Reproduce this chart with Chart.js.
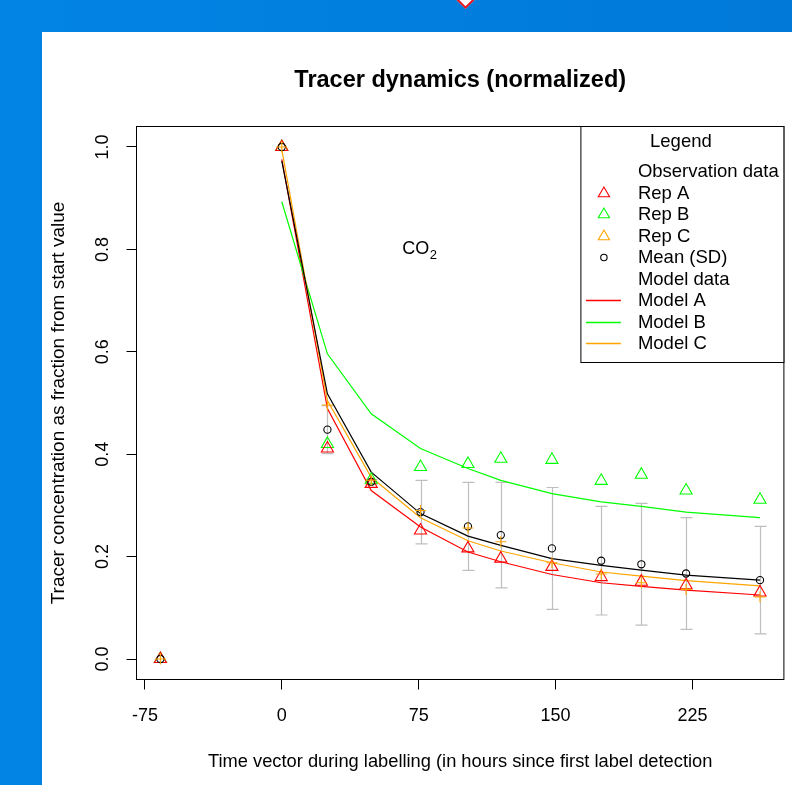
<!DOCTYPE html>
<html>
<head>
<meta charset="utf-8">
<script src="https://cdn.jsdelivr.net/npm/chart.js@4.4.1/dist/chart.umd.min.js"></script>
<style>
    html, body { margin: 0; padding: 0; }
    body { width: 792px; height: 785px; position: relative; overflow: hidden; background: linear-gradient(to right, #0284e4, #0079d9); }
    #panel { position: absolute; left: 42px; top: 32px; right: 0; bottom: 0; background: #fff; }
    #badge { position: absolute; left: 458px; top: -9px; width: 11px; height: 11px; background: #fff; border: 2px solid #e3141b; transform: rotate(45deg); }
    #wrap { position: absolute; left: 0; top: 0; width: 792px; height: 785px; }
</style>
</head>
<body>
<div id="badge"></div>
<div id="panel"></div>
<div id="wrap"><canvas id="tracerChart" width="792" height="785"></canvas></div>
<script>
// Observation data (hours since first label detection, normalized tracer)
const timeObs = [-66.5, 0, 25, 49, 76, 102, 120, 148, 175, 197, 221.5, 262];
const repA = [0, 1.0, 0.411, 0.342, 0.251, 0.216, 0.196, 0.180, 0.160, 0.151, 0.144, 0.130];
const repB = [0, 1.0, 0.420, 0.350, 0.375, 0.381, 0.391, 0.389, 0.348, 0.360, 0.329, 0.311];
const repC = [0, 1.0, 0.496, 0.349, 0.290, 0.256, 0.229, 0.188, 0.166, 0.149, 0.136, 0.121];
const meanObs = [0, 1.0, 0.448, 0.346, 0.287, 0.259, 0.242, 0.216, 0.192, 0.185, 0.167, 0.154];
const sdObs = [0, 0, 0.047, 0.005, 0.062, 0.086, 0.103, 0.119, 0.106, 0.119, 0.109, 0.105];

// Model data
const timeModel = [0, 25, 49, 76, 102, 120, 148, 175, 197, 221.5, 262];
const modelA = [0.976, 0.489, 0.329, 0.258, 0.209, 0.190, 0.165, 0.149, 0.142, 0.1345, 0.125];
const modelB = [0.893, 0.596, 0.479, 0.411, 0.372, 0.349, 0.323, 0.307, 0.298, 0.287, 0.276];
const modelC = [0.995, 0.505, 0.355, 0.276, 0.231, 0.211, 0.188, 0.170, 0.162, 0.153, 0.143];
const modelMean = [0.973, 0.518, 0.365, 0.284, 0.240, 0.222, 0.196, 0.183, 0.1735, 0.164, 0.154];

// Axis ticks
const xTicks = [-75, 0, 75, 150, 225];
const yTicks = [0, 0.2, 0.4, 0.6, 0.8, 1.0];

const FONT = "'Liberation Sans', Arial, sans-serif";
Chart.defaults.font.family = FONT;
Chart.defaults.color = '#000';

const toPoints = (xs, ys) => xs.map((t, i) => ({ x: t, y: ys[i] }));

const obsStyle = (color, style, radius) => ({
    showLine: false,
    pointStyle: style,
    pointRadius: radius,
    pointHoverRadius: radius,
    pointBorderWidth: 1.1,
    pointBorderColor: color,
    pointBackgroundColor: 'rgba(0,0,0,0)',
    borderColor: color
});

const modelStyle = color => ({
    type: 'line',
    showLine: true,
    borderColor: color,
    borderWidth: 1.2,
    pointRadius: 0,
    tension: 0,
    fill: false
});

// Gray SD whiskers round the mean values
const errorBars = {
    id: 'errorBars',
    beforeDatasetsDraw(chart) {
        const { ctx, scales: { x, y } } = chart;
        ctx.save();
        ctx.strokeStyle = '#bebebe';
        ctx.lineWidth = 1.2;
        timeObs.forEach((t, i) => {
            if (!sdObs[i]) return;
            const px = Math.round(x.getPixelForValue(t)) + 0.5;
            const top = y.getPixelForValue(meanObs[i] + sdObs[i]);
            const bot = y.getPixelForValue(meanObs[i] - sdObs[i]);
            ctx.beginPath();
            ctx.moveTo(px, top); ctx.lineTo(px, bot);
            ctx.moveTo(px - 6, top); ctx.lineTo(px + 6, top);
            ctx.moveTo(px - 6, bot); ctx.lineTo(px + 6, bot);
            ctx.stroke();
        });
        ctx.restore();
    }
};

// Plot frame, legend box and the CO2 label
const co2At = { x: 66, y: 0.8 };
const legendRows = ['Observation data', 'Rep A', 'Rep B', 'Rep C', 'Mean (SD)', 'Model data', 'Model A', 'Model B', 'Model C'];

const frameAndLegend = {
    id: 'frameAndLegend',
    afterDraw(chart) {
        const { ctx, chartArea: a, scales: { x, y } } = chart;
        const sets = chart.data.datasets;
        ctx.save();
        ctx.strokeStyle = '#000';
        ctx.lineWidth = 1;
        ctx.strokeRect(a.left, a.top, a.right - a.left, a.bottom - a.top);

        // legend
        const w = 203, h = 236;
        const lx = a.right - w, ly = a.top;
        ctx.fillStyle = '#fff';
        ctx.fillRect(lx, ly, w, h);
        ctx.strokeRect(lx, ly, w, h);

        ctx.fillStyle = '#000';
        ctx.font = '18.5px ' + FONT;
        ctx.textBaseline = 'middle';
        ctx.textAlign = 'center';
        ctx.fillText('Legend', lx + 100, ly + 15.5);
        ctx.textAlign = 'left';

        const byLabel = {};
        sets.forEach(d => { byLabel[d.label] = d; });
        legendRows.forEach((label, i) => {
            const ry = Math.round(ly + 44.5 + i * 21.5) + 0.5;
            ctx.fillStyle = '#000';
            ctx.fillText(label, lx + 57, ry);
            const d = byLabel[label];
            if (!d) return;
            const mx = lx + 23;
            ctx.strokeStyle = d.borderColor;
            ctx.beginPath();
            if (d.type === 'line') {
                ctx.lineWidth = 1.5;
                ctx.moveTo(lx + 5, ry);
                ctx.lineTo(lx + 40, ry);
            } else if (d.legendStyle === 'circle') {
                ctx.lineWidth = 1.1;
                ctx.arc(mx, ry, 3.2, 0, Math.PI * 2);
            } else {
                const r = 6.5;
                ctx.lineWidth = 1.1;
                ctx.moveTo(mx, ry - r);
                ctx.lineTo(mx + r * 0.866, ry + r / 2);
                ctx.lineTo(mx - r * 0.866, ry + r / 2);
                ctx.closePath();
            }
            ctx.stroke();
        });

        // CO2 annotation
        const px = x.getPixelForValue(co2At.x);
        const py = y.getPixelForValue(co2At.y);
        ctx.fillStyle = '#000';
        ctx.font = '18px ' + FONT;
        ctx.fillText('CO', px, py);
        const cw = ctx.measureText('CO').width;
        ctx.font = '13px ' + FONT;
        ctx.fillText('2', px + cw + 0.5, py + 6);
        ctx.restore();
    }
};

new Chart(document.getElementById('tracerChart'), {
    type: 'scatter',
    data: {
        datasets: [
            { label: 'Rep C', data: toPoints(timeObs, repC), order: 0, legendStyle: 'triangle', ...obsStyle('#ffa500', 'cross', 5.5) },
            { label: 'Mean (SD)', data: toPoints(timeObs, meanObs), order: 1, legendStyle: 'circle', ...obsStyle('#000000', 'circle', 3.6) },
            { label: 'Rep A', data: toPoints(timeObs, repA), order: 2, legendStyle: 'triangle', ...obsStyle('#ff0000', 'triangle', 7) },
            { label: 'Rep B', data: toPoints(timeObs, repB), order: 3, legendStyle: 'triangle', ...obsStyle('#00ff00', 'triangle', 7) },
            { label: 'Model mean', data: toPoints(timeModel, modelMean), order: 4, ...modelStyle('#000000') },
            { label: 'Model C', data: toPoints(timeModel, modelC), order: 5, ...modelStyle('#ffa500') },
            { label: 'Model B', data: toPoints(timeModel, modelB), order: 6, ...modelStyle('#00ff00') },
            { label: 'Model A', data: toPoints(timeModel, modelA), order: 7, ...modelStyle('#ff0000') }
        ]
    },
    options: {
        responsive: false,
        devicePixelRatio: 1,
        animation: false,
        events: [],
        layout: { padding: { left: 0, right: 5.5, top: 0, bottom: 0 } },
        plugins: {
            legend: { display: false },
            tooltip: { enabled: false },
            title: {
                display: true,
                fullSize: false,
                text: 'Tracer dynamics (normalized)',
                color: '#000',
                font: { size: 23.5, weight: 'bold', family: FONT },
                padding: { top: 66, bottom: 32.3 }
            }
        },
        scales: {
            x: {
                type: 'linear',
                position: 'bottom',
                min: -79.6,
                max: 275.1,
                afterBuildTicks: s => { s.ticks = xTicks.map(v => ({ value: v })); },
                afterFit: s => { s.height = 105.5; },
                ticks: { font: { size: 18 }, color: '#000', padding: 16, maxRotation: 0, autoSkip: false },
                grid: { drawOnChartArea: false, drawTicks: true, tickLength: 10, color: '#000' },
                border: { display: false },
                title: {
                    display: true,
                    text: 'Time vector during labelling (in hours since first label detection',
                    font: { size: 18.3 },
                    color: '#000',
                    padding: { top: 0, bottom: 12 }
                }
            },
            y: {
                type: 'linear',
                min: -0.04,
                max: 1.04,
                afterBuildTicks: s => { s.ticks = yTicks.map(v => ({ value: v })); },
                afterFit: s => { s.width = 136.5; },
                ticks: {
                    font: { size: 18 }, color: '#000', padding: 10.7,
                    minRotation: 90, maxRotation: 90, crossAlign: 'center',
                    callback: v => v.toFixed(1)
                },
                grid: { drawOnChartArea: false, drawTicks: true, tickLength: 10, color: '#000' },
                border: { display: false },
                title: {
                    display: true,
                    text: 'Tracer concentration as fraction from start value',
                    font: { size: 19 },
                    color: '#000',
                    padding: { top: 47, bottom: 0 }
                }
            }
        }
    },
    plugins: [errorBars, frameAndLegend]
});
</script>
</body>
</html>
